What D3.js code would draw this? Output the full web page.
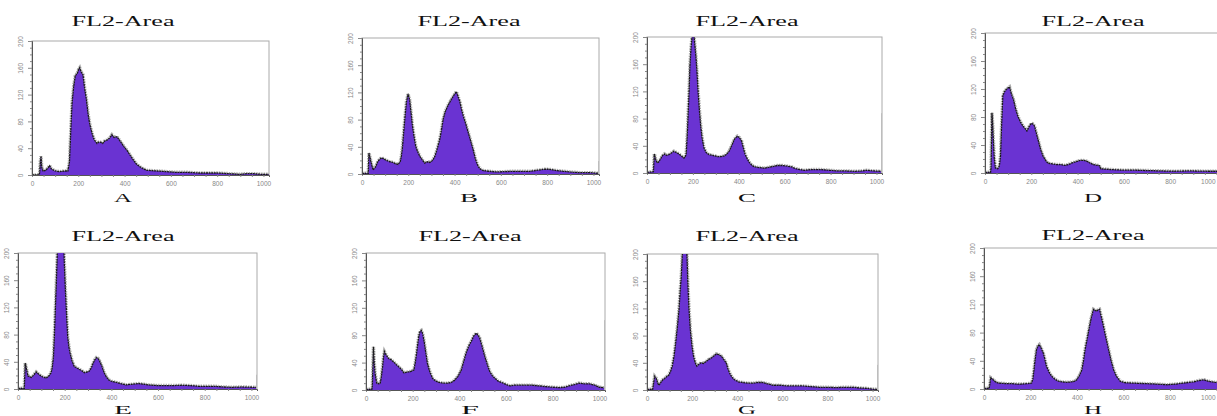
<!DOCTYPE html>
<html>
<head>
<meta charset="utf-8">
<script src="https://cdn.jsdelivr.net/npm/d3@7/dist/d3.min.js"></script>
<style>
body{margin:0;background:#fff;}
.title{font-family:"Liberation Serif","DejaVu Serif",serif;font-size:14px;fill:#111;}
.letter{font-family:"Liberation Serif","DejaVu Serif",serif;font-size:13px;fill:#111;}
.tick text{font-family:"Liberation Sans",sans-serif;font-size:6.5px;fill:#888;}
.tick line{stroke:#888;}
</style>
</head>
<body>
<svg id="chart"></svg>
<script>
var w=1217;
var h=416;
// channel, count pairs
var histA=[[0,0],[30,0],[33,3],[36,20],[39,28],[42,12],[48,6],[60,7],[70,11],[76,14],[84,9],[100,6],[120,5],[140,6],[155,6],[162,20],[168,70],[173,107],[180,132],[187,148],[196,152],[202,158],[206,160],[212,154],[220,150],[228,128],[235,113],[242,92],[249,77],[258,64],[266,55],[274,50],[281,47],[288,49],[295,49],[305,47],[315,51],[324,52],[335,55],[345,60],[355,56],[367,57],[378,52],[388,47],[398,42],[410,37],[425,29],[439,22],[452,16],[468,12],[482,9],[496,7],[540,6],[583,5],[620,4],[669,4],[720,3],[760,3],[799,3],[850,2],[899,1],[930,2],[957,2],[990,1],[1023,1]];
var histB=[[0,1],[27,1],[30,31],[35,24],[40,16],[48,6],[58,10],[69,19],[84,24],[95,22],[105,20],[120,18],[134,17],[145,15],[156,14],[165,18],[170,26],[175,40],[180,61],[186,85],[192,106],[199,118],[206,109],[212,90],[218,71],[225,55],[232,41],[240,33],[250,26],[260,21],[271,16],[282,18],[293,17],[305,20],[315,26],[325,37],[336,51],[344,66],[351,81],[360,92],[372,101],[383,108],[394,114],[401,118],[408,121],[415,114],[423,106],[430,95],[437,86],[448,74],[459,61],[470,48],[480,36],[490,22],[502,11],[512,7],[524,5],[550,4],[582,3],[650,4],[726,4],[769,6],[790,7],[805,7],[825,6],[841,5],[870,4],[899,3],[940,2],[986,2],[1023,1]];
var histC=[[0,1],[28,2],[32,28],[38,20],[44,15],[50,16],[58,20],[66,25],[76,28],[85,26],[95,27],[105,29],[117,32],[128,30],[139,28],[150,25],[161,22],[167,24],[171,29],[176,60],[180,93],[184,127],[187,157],[192,185],[196,199],[200,210],[204,206],[208,190],[213,172],[218,148],[222,123],[228,94],[234,69],[240,52],[248,37],[258,30],[270,27],[285,26],[297,25],[307,24],[322,24],[336,25],[348,28],[358,32],[370,41],[380,49],[387,52],[394,54],[403,52],[412,47],[419,38],[426,29],[435,22],[445,16],[455,12],[467,9],[490,8],[511,7],[540,9],[569,11],[590,11],[613,10],[630,9],[642,7],[665,5],[686,4],[720,5],[759,5],[795,4],[832,3],[870,3],[905,2.5],[935,3],[956,4],[990,3],[1023,2.5]];
var histD=[[0,1],[24,1],[26,7],[30,86],[33,70],[36,48],[40,22],[45,7],[55,6],[62,10],[67,24],[72,70],[77,110],[84,116],[91,119],[98,121],[106,123],[114,113],[123,105],[132,92],[142,81],[153,73],[164,67],[172,64],[181,60],[190,66],[200,71],[207,70],[214,67],[221,58],[229,48],[240,34],[251,24],[262,18],[272,14],[290,13],[309,12],[327,12],[345,11],[360,12],[374,14],[392,16],[410,18],[425,18],[439,17],[455,14],[468,12],[494,10.5],[500,6],[540,5],[599,4],[650,4],[700,3.5],[760,3],[816,2.5],[880,3],[961,2.5],[1023,2.5]];
var histE=[[0,1],[27,1],[31,38],[36,30],[43,19],[50,18],[57,17],[66,20],[78,25],[88,22],[99,19],[110,17],[121,16],[132,19],[142,24],[147,32],[152,48],[156,80],[160,117],[164,155],[167,185],[171,225],[178,240],[186,245],[194,232],[198,190],[203,146],[208,110],[213,77],[218,62],[223,53],[231,42],[241,33],[252,31],[262,29],[273,27],[284,24],[295,25],[305,26],[314,31],[322,38],[329,43],[336,46],[343,45],[350,41],[360,33],[369,24],[380,17],[390,13],[404,11],[418,10],[440,8],[461,6],[490,7],[518,8],[540,7],[560,6],[600,5],[631,5],[665,5],[702,5.5],[740,5],[773,4],[810,4],[844,4],[880,3],[915,2.5],[960,3],[1007,2.5],[1023,2.5]];
var histF=[[0,1],[25,1],[27,5],[30,40],[32,63],[35,42],[39,24],[46,10],[55,9],[61,10],[66,20],[71,34],[75,48],[79,56],[88,50],[97,46],[108,44],[118,41],[130,37],[140,34],[152,30],[162,25],[175,26],[191,27],[198,28],[205,29],[211,40],[217,54],[222,68],[227,80],[232,86],[237,87],[243,82],[249,71],[256,55],[263,39],[273,27],[285,17],[298,13],[314,11],[330,10],[350,10],[365,11],[379,14],[394,20],[408,29],[418,41],[429,54],[440,64],[451,71],[462,79],[473,83],[480,80],[487,76],[497,64],[509,49],[520,37],[530,27],[541,21],[552,17],[566,13],[581,11],[600,8],[617,6],[635,7],[653,7],[680,7],[711,7],[740,6],[769,5],[800,4],[827,3.5],[850,4],[870,6],[893,8],[913,10],[935,9],[957,9],[980,7],[1000,4],[1023,3]];
var histG=[[0,1],[25,1],[27,5],[31,14],[34,20],[41,17],[47,11],[52,7],[57,9],[63,12],[70,15],[78,17],[88,20],[97,22],[105,28],[112,35],[120,50],[127,69],[135,94],[142,119],[147,145],[152,168],[156,195],[160,215],[167,235],[174,228],[178,190],[181,158],[186,120],[192,89],[199,66],[206,50],[214,40],[221,35],[230,38],[240,40],[250,39],[263,42],[274,45],[285,47],[296,50],[307,53],[318,52],[329,50],[340,45],[351,40],[358,32],[366,25],[376,19],[388,15],[405,12],[425,11],[447,10],[469,10],[490,11],[513,11],[535,9],[558,7],[590,7],[617,6],[650,6],[690,6],[725,5],[764,4],[800,4],[838,3.5],[875,4],[912,4],[940,3],[971,2.5],[1007,1],[1023,1]];
var histH=[[0,1],[22,1],[24,4],[29,16],[34,15],[39,13],[50,10],[61,8.5],[80,8],[97,7.5],[120,7.5],[140,7],[160,7],[183,7.5],[200,8],[205,8.5],[210,14],[215,27],[220,42],[226,56],[232,61],[238,63],[246,58],[255,51],[262,42],[269,32],[280,24],[291,18],[305,14],[320,11],[338,10],[356,9.5],[375,10],[390,11],[399,13],[410,19],[421,27],[428,40],[435,56],[445,73],[454,89],[462,102],[471,113],[477,112],[483,110],[490,112],[497,113],[505,102],[514,89],[525,72],[536,56],[547,40],[558,27],[570,18],[586,11],[605,9],[630,8.5],[665,8],[702,7.5],[740,7],[788,6],[825,7],[860,8.5],[900,10],[925,12],[947,13],[965,11],[990,9.5],[1023,9]];
var overflow=[0,19,88,0,21,102,37,0];
var labels=["A","B","C","D","E","F","G","H"];
var yTicks=[0,40,80,120,160,200];
var xTicks=[0,200,400,600,800,1000];

var layout=[
  {left:32,right:269,top:41,bottom:175,cx:123,ty:26,ly:202},
  {left:362,right:599,top:38,bottom:174,cx:469,ty:26,ly:202},
  {left:647,right:882,top:37,bottom:173,cx:747,ty:26,ly:202},
  {left:985,right:1222,top:33,bottom:173,cx:1093,ty:26,ly:202},
  {left:18,right:257,top:253,bottom:389,cx:123,ty:241,ly:414},
  {left:366,right:605,top:253,bottom:390,cx:470,ty:241,ly:414},
  {left:647,right:878,top:254,bottom:390,cx:747,ty:241,ly:414},
  {left:984,right:1222,top:248,bottom:389,cx:1093,ty:240,ly:414}
];
var hists=[histA,histB,histC,histD,histE,histF,histG,histH];

var svg=d3.select("#chart")
          .attr("width",w)
          .attr("height",h);

hists.forEach(function(data,i){
  var p=layout[i];
  var xScale=d3.scaleLinear()
               .domain([0,1024])
               .range([p.left,p.right]);
  var yScale=d3.scaleLinear()
               .domain([0,200])
               .range([p.bottom,p.top]);
  var g=svg.append("g");
  g.append("clipPath")
   .attr("id","clip"+i)
   .append("rect")
   .attr("x",p.left)
   .attr("y",p.top)
   .attr("width",p.right-p.left)
   .attr("height",p.bottom-p.top);

  // frame
  g.append("rect")
   .attr("x",p.left)
   .attr("y",p.top)
   .attr("width",p.right-p.left)
   .attr("height",p.bottom-p.top)
   .attr("fill","none")
   .attr("stroke","#aaa")
   .attr("stroke-width",1);

  var area=d3.area()
             .x(function(d){return xScale(d[0]);})
             .y0(yScale(0))
             .y1(function(d){return yScale(d[1]);});
  var line=d3.line()
             .x(function(d){return xScale(d[0]);})
             .y(function(d){return yScale(d[1]);});
  var plot=g.append("g").attr("clip-path","url(#clip"+i+")");
  // grey speckle above the outline
  plot.append("path")
      .datum(data)
      .attr("d",line)
      .attr("fill","none")
      .attr("stroke","#999")
      .attr("stroke-width",3.5)
      .attr("stroke-dasharray","1.5,1")
      .attr("opacity",0.8);
  plot.append("path")
      .datum(data)
      .attr("d",area)
      .attr("fill","#6a33d2");
  plot.append("path")
      .datum(data)
      .attr("d",line)
      .attr("fill","none")
      .attr("stroke","#1a1a1a")
      .attr("stroke-width",1.3)
      .attr("stroke-dasharray","2,0.6");
  if(overflow[i]>0){
    plot.append("rect")
        .attr("x",xScale(1020))
        .attr("y",yScale(overflow[i]))
        .attr("width",xScale(1024)-xScale(1020))
        .attr("height",yScale(0)-yScale(overflow[i]))
        .attr("fill","#bbb");
  }

  var xAxis=d3.axisBottom(xScale)
              .tickValues(d3.range(0,1001,50))
              .tickSize(2)
              .tickFormat(function(d){return xTicks.indexOf(d)>=0?d:"";});
  var yAxis=d3.axisLeft(yScale)
              .tickValues(d3.range(0,201,10))
              .tickSize(2)
              .tickFormat(function(d){return yTicks.indexOf(d)>=0?d:"";});
  var gx=g.append("g")
          .call(xAxis)
          .attr("transform","translate(0,"+p.bottom+")");
  gx.select(".domain").attr("stroke","#555");
  // keep the last label inside the window when the panel runs off the edge
  gx.selectAll(".tick text")
    .attr("dy","0.9em")
    .attr("text-anchor",function(d){return xScale(d)+7>w?"end":"middle";})
    .attr("x",function(d){return xScale(d)+7>w?(w-2-xScale(d)):0;});
  var gy=g.append("g")
          .call(yAxis)
          .attr("transform","translate("+p.left+",0)");
  gy.select(".domain").attr("stroke","#555");
  gy.selectAll(".tick line")
    .attr("x2",function(d){return d%40==0?-4:-2;});
  gy.selectAll(".tick text")
    .attr("x",0).attr("dy",0)
    .attr("text-anchor","middle")
    .attr("transform","translate(-9,0) rotate(-90)");

  g.append("text")
   .classed("title",true)
   .attr("x",p.cx)
   .attr("y",p.ty)
   .attr("text-anchor","middle")
   .attr("textLength",103)
   .attr("lengthAdjust","spacingAndGlyphs")
   .text("FL2-Area");
  g.append("text")
   .classed("letter",true)
   .attr("x",p.cx)
   .attr("y",p.ly)
   .attr("text-anchor","middle")
   .attr("textLength",18)
   .attr("lengthAdjust","spacingAndGlyphs")
   .text(labels[i]);
});
</script>
</body>
</html>
